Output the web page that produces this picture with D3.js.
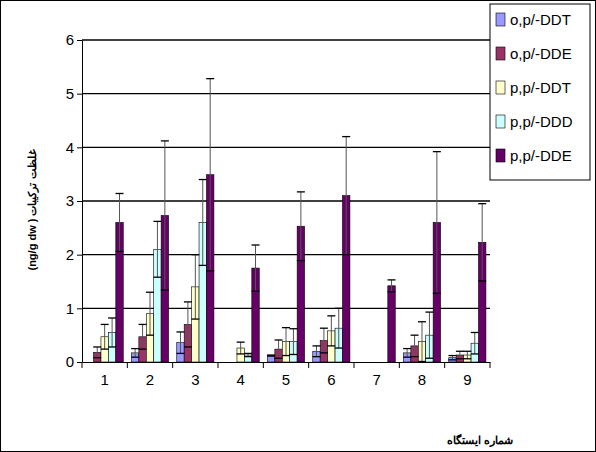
<!DOCTYPE html>
<html><head><meta charset="utf-8">
<script src="https://cdn.jsdelivr.net/npm/d3@7"></script>
<style>body{margin:0;background:#fff}text{font-family:Arial,"Liberation Sans",sans-serif}</style>
</head><body><svg width="596" height="452"></svg>
<script>
var stations = ['1','2','3','4','5','6','7','8','9'];
var seriesNames = ["o,p/-DDT","o,p/-DDE","p,p/-DDT","p,p/-DDD","p,p/-DDE"];
var colors = ['#9999ff','#993366','#ffffcc','#ccffff','#660066'];
var opDDT = [0.0,0.17,0.36,0.0,0.12,0.2,0.0,0.17,0.08];
var opDDTerr = [0,0.08,0.2,0,0.01,0.1,0,0.08,0.04];
var opDDE = [0.18,0.47,0.7,0.0,0.24,0.4,0.0,0.3,0.13];
var opDDEerr = [0.1,0.23,0.42,0,0.17,0.23,0,0.2,0.07];
var ppDDT = [0.47,0.9,1.4,0.26,0.38,0.58,0.0,0.38,0.13];
var ppDDTerr = [0.23,0.4,0.6,0.11,0.26,0.28,0,0.37,0.07];
var ppDDD = [0.55,2.1,2.6,0.13,0.38,0.63,0.0,0.5,0.35];
var ppDDDerr = [0.27,0.52,0.8,0.03,0.24,0.37,0,0.43,0.2];
var ppDDE = [2.6,2.73,3.49,1.75,2.53,3.1,1.42,2.6,2.23];
var ppDDEerr = [0.54,1.39,1.79,0.43,0.64,1.1,0.11,1.32,0.72];
var values = [opDDT,opDDE,ppDDT,ppDDD,ppDDE];
var errs = [opDDTerr,opDDEerr,ppDDTerr,ppDDDerr,ppDDEerr];
var yTicks = [0,1,2,3,4,5,6];

var svg = d3.select('svg');
svg.append('rect').attr('x',0.5).attr('y',0.5).attr('width',595).attr('height',451)
  .attr('fill','none').attr('stroke','#000');

var pLeft = 82, pRight = 490, pTop = 40, pBottom = 362;
var x = d3.scaleBand().domain(stations).range([pLeft,pRight]);
var xs = d3.scaleBand().domain(d3.range(5)).range([0,x.bandwidth()]).paddingOuter(0.55).paddingInner(0);
var y = d3.scaleLinear().domain([0,6]).range([pBottom,pTop]);

svg.append('g').selectAll('line').data(yTicks.slice(1)).enter().append('line')
  .attr('x1',pLeft).attr('x2',pRight).attr('y1',d=>y(d)).attr('y2',d=>y(d))
  .attr('stroke','#000').attr('stroke-width',1.3);

var bars = svg.append('g');
values.forEach(function(arr,s){
  bars.selectAll('.b'+s).data(arr).enter().append('rect')
    .attr('x',(d,i)=>x(stations[i])+xs(s)).attr('y',d=>y(d))
    .attr('width',xs.bandwidth()).attr('height',d=>pBottom-y(d))
    .attr('fill',colors[s]).attr('stroke','#000').attr('stroke-width',0.6);
});
values.forEach(function(arr,s){
  var g = bars.append('g').attr('stroke','#000');
  arr.forEach(function(v,i){
    var e = errs[s][i]; if(!e) return;
    var cx = x(stations[i])+xs(s)+xs.bandwidth()/2;
    g.append('line').attr('x1',cx).attr('x2',cx).attr('y1',y(v+e)).attr('y2',y(Math.max(0,v-e))).attr('stroke','#555');
    [v+e,Math.max(0,v-e)].forEach(function(t){
      g.append('line').attr('x1',cx-4).attr('x2',cx+4).attr('y1',y(t)).attr('y2',y(t)).attr('stroke-width',1.3);
    });
  });
});

svg.append('g').attr('transform','translate(0,'+pBottom+')')
  .call(d3.axisBottom(x).tickSize(0).tickSizeOuter(0).tickPadding(12))
  .call(g=>g.selectAll('text').attr('font-size',15))
  .call(g=>g.selectAll('path').attr('stroke','#000'));
svg.append('g').selectAll('line').data(stations.concat(['end'])).enter().append('line')
  .attr('x1',d=>d==='end'?pRight:x(d)).attr('x2',d=>d==='end'?pRight:x(d))
  .attr('y1',pBottom).attr('y2',pBottom+6).attr('stroke','#000');
svg.append('g').attr('transform','translate('+pLeft+',0)')
  .call(d3.axisLeft(y).tickValues(yTicks).tickFormat(d3.format('d')).tickSize(5).tickSizeOuter(0))
  .call(g=>g.selectAll('text').attr('font-size',15))
  .call(g=>g.selectAll('line,path').attr('stroke','#000'));

svg.append('text').attr('transform','translate(36,210) rotate(-90)').attr('text-anchor','middle')
  .attr('font-size',11).attr('font-weight','bold').text('(ng/g dw ) غلظت ترکیبات');
svg.append('text').attr('x',480).attr('y',444).attr('text-anchor','middle')
  .attr('font-size',11).attr('font-weight','bold').text('شماره ایستگاه');

var lg = svg.append('g').attr('transform','translate(490,4)');
lg.append('rect').attr('width',100).attr('height',176).attr('fill','#fff').attr('stroke','#000');
var it = lg.selectAll('.l').data(seriesNames).enter().append('g')
  .attr('transform',(d,i)=>'translate(6,'+(9+i*34)+')');
it.append('rect').attr('width',9).attr('height',13).attr('fill',(d,i)=>colors[i]).attr('stroke','#000').attr('stroke-width',0.6);
it.append('text').attr('x',14).attr('y',12).attr('font-size',15).text(d=>d);
</script></body></html>
